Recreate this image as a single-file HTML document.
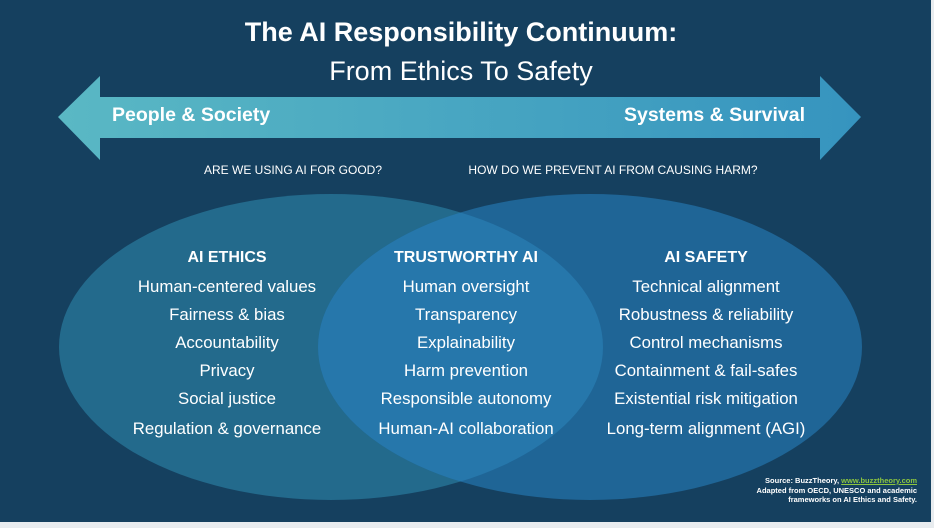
<!DOCTYPE html>
<html><head><meta charset="utf-8"><style>
html,body{margin:0;padding:0;background:#e8ecef;}
#c{position:relative;width:931px;height:522px;background:#15405f;overflow:hidden;font-family:"Liberation Sans",sans-serif;color:#fff;}
.t{position:absolute;white-space:nowrap;transform:translateX(-50%);text-align:center;}
.i{font-size:16.8px}
.h{font-size:16px;font-weight:bold}
</style></head><body>
<div id="c">
<svg width="931" height="522" style="position:absolute;left:0;top:0">
<defs>
<linearGradient id="g" x1="0" x2="1"><stop offset="0" stop-color="#5ab8c4"/><stop offset="1" stop-color="#3694bf"/></linearGradient>
<clipPath id="cl"><ellipse cx="331" cy="347" rx="272" ry="153"/></clipPath>
</defs>
<polygon points="58,117 100,76 100,97 820,97 820,76 861,117 820,160 820,138 100,138 100,160" fill="url(#g)"/>
<ellipse cx="331" cy="347" rx="272" ry="153" fill="#236a8c"/>
<ellipse cx="590" cy="347" rx="272" ry="153" fill="#1f6596"/>
<ellipse cx="590" cy="347" rx="272" ry="153" fill="#2677ab" clip-path="url(#cl)"/>
</svg>
<div class="t" style="left:461px;top:17px;font-size:27px;font-weight:bold">The AI Responsibility Continuum:</div>
<div class="t" style="left:461px;top:56px;font-size:27px">From Ethics To Safety</div>
<div style="position:absolute;left:112px;top:104px;font-size:19.5px;font-weight:bold">People &amp; Society</div>
<div style="position:absolute;right:126px;top:104px;font-size:19.5px;font-weight:bold">Systems &amp; Survival</div>
<div class="t" style="left:293px;top:163px;font-size:12px">ARE WE USING AI FOR GOOD?</div>
<div class="t" style="left:613px;top:163px;font-size:12px">HOW DO WE PREVENT AI FROM CAUSING HARM?</div>

<div class="t h" style="left:227px;top:249px">AI ETHICS</div>
<div class="t i" style="left:227px;top:277px">Human-centered values</div>
<div class="t i" style="left:227px;top:305px">Fairness &amp; bias</div>
<div class="t i" style="left:227px;top:333px">Accountability</div>
<div class="t i" style="left:227px;top:361px">Privacy</div>
<div class="t i" style="left:227px;top:389px">Social justice</div>
<div class="t i" style="left:227px;top:419px">Regulation &amp; governance</div>

<div class="t h" style="left:466px;top:249px">TRUSTWORTHY AI</div>
<div class="t i" style="left:466px;top:277px">Human oversight</div>
<div class="t i" style="left:466px;top:305px">Transparency</div>
<div class="t i" style="left:466px;top:333px">Explainability</div>
<div class="t i" style="left:466px;top:361px">Harm prevention</div>
<div class="t i" style="left:466px;top:389px">Responsible autonomy</div>
<div class="t i" style="left:466px;top:419px">Human-AI collaboration</div>

<div class="t h" style="left:706px;top:249px">AI SAFETY</div>
<div class="t i" style="left:706px;top:277px">Technical alignment</div>
<div class="t i" style="left:706px;top:305px">Robustness &amp; reliability</div>
<div class="t i" style="left:706px;top:333px">Control mechanisms</div>
<div class="t i" style="left:706px;top:361px">Containment &amp; fail-safes</div>
<div class="t i" style="left:706px;top:389px">Existential risk mitigation</div>
<div class="t i" style="left:706px;top:419px">Long-term alignment (AGI)</div>

<div style="position:absolute;right:14px;top:476px;font-size:7.5px;line-height:9.5px;text-align:right;font-weight:bold">Source: BuzzTheory, <span style="color:#8dc63f;text-decoration:underline">www.buzztheory.com</span><br>Adapted from OECD, UNESCO and academic<br>frameworks on AI Ethics and Safety.</div>
</div>
</body></html>
